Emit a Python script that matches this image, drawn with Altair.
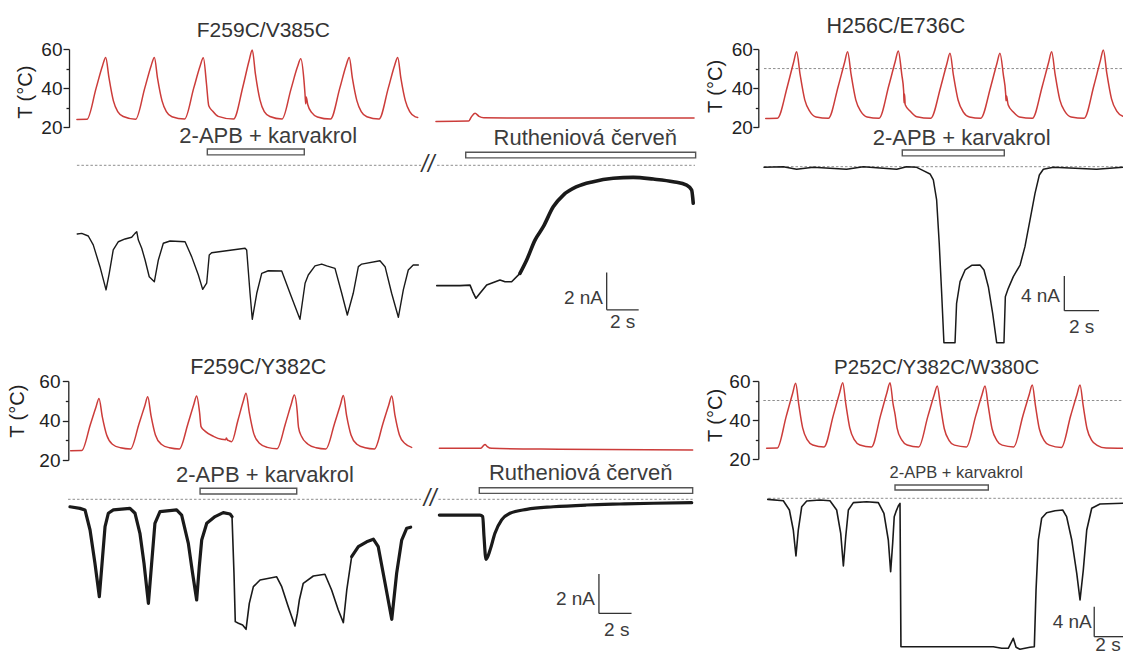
import altair as alt
import pandas as pd

# ---------------- data ----------------
# time in s, temperature in degC, current in nA (0 = dashed zero-current line)

# F259C/V385C (top left)
TL_TEMP_A = [(0.12,24.0),(0.75,24.1),(1.32,40.0),(1.72,51.5),(1.92,55.7),(2.12,45.5),(2.40,33.5),(2.67,28.0),(3.02,25.5),(3.79,24.1),
             (4.36,40.0),(4.76,51.5),(4.96,55.7),(5.16,45.0),(5.44,33.5),(5.71,28.0),(6.06,25.4),(6.85,24.2),
             (7.42,40.0),(7.82,51.3),(8.02,55.5),(8.22,42.0),(8.33,32.5),(8.36,31.0),(8.60,28.3),(8.95,25.6),(9.91,24.2),
             (10.50,41.0),(10.88,54.0),(11.08,59.5),(11.28,47.0),(11.56,34.0),(11.83,28.0),(12.18,25.5),(12.94,24.2),
             (13.50,39.5),(13.91,51.0),(14.11,55.0),(14.31,44.0),(14.38,36.5),(14.42,32.0),(14.45,35.5),(14.55,31.5),(14.80,27.5),(15.15,25.3),(15.97,24.2),
             (16.55,40.0),(16.94,51.5),(17.14,55.7),(17.34,45.0),(17.62,33.5),(17.89,28.0),(18.24,25.4),(19.00,24.2),
             (19.58,40.0),(19.97,51.5),(20.17,55.7),(20.37,45.0),(20.65,33.5),(20.92,28.0),(21.27,25.3),(21.42,25.0)]
TL_TEMP_B = [(22.56,23.0),(24.60,23.2),(24.75,25.0),(25.00,27.2),(25.25,25.6),(25.55,24.9),(27.00,24.8),(38.69,24.8)]
TL_CUR_A = [(0.14,-3.69),(0.42,-3.66),(0.83,-3.80),(1.14,-4.28),(1.56,-5.45),(1.94,-6.70),(2.14,-5.81),(2.39,-4.55),(2.71,-4.11),
            (3.13,-3.96),(3.54,-3.87),(3.75,-3.66),(3.86,-3.57),(3.96,-4.02),(4.17,-4.46),(4.38,-5.09),(4.64,-5.99),(4.96,-6.26),
            (5.21,-5.09),(5.52,-4.19),(5.94,-4.07),(6.88,-4.11),(7.29,-4.91),(7.71,-5.90),(7.98,-6.67),(8.23,-6.34),(8.39,-4.82),
            (8.54,-4.70),(10.63,-4.46),(10.73,-4.55),(10.94,-6.88),(11.08,-8.28),(11.36,-6.88),(11.67,-5.81),(12.08,-5.67),
            (12.92,-5.68),(13.44,-6.88),(14.06,-8.28),(14.38,-6.34),(14.58,-5.90),(15.00,-5.41),(15.42,-5.31),(15.73,-5.41),
            (16.25,-5.54),(16.67,-6.88),(17.02,-8.05),(17.39,-6.88),(17.71,-5.45),(17.92,-5.31),(19.06,-5.13),(19.38,-5.45),
            (19.79,-6.88),(20.21,-8.17),(20.52,-6.70),(20.83,-5.63),(21.14,-5.36),(21.46,-5.36)]
TL_CUR_B = [(22.61,-6.47),(24.06,-6.47),(24.69,-6.44),(24.86,-6.80),(25.06,-7.15),(25.31,-6.88),(25.73,-6.44),(26.56,-6.17),
            (26.88,-6.26),(27.29,-6.26),(27.81,-5.81)]
TL_CUR_C = [(27.81,-5.81),(28.23,-5.09),(28.75,-4.02),(29.27,-3.30),(29.89,-2.23),(30.52,-1.60),(31.36,-1.15),(32.39,-0.88),
            (33.64,-0.70),(34.89,-0.65),(36.14,-0.74),(37.39,-0.88),(38.23,-1.06),(38.54,-1.33),(38.64,-2.04)]
TL_DRUG = (8.27, 14.33)
TL_RR = (24.42, 38.79)

# H256C/E736C (top right)
TR_TEMP = [(0.10,24.5),(0.77,24.6),(1.35,41.0),(1.70,53.0),(1.88,58.6),(2.08,47.0),(2.35,34.0),(2.65,28.0),(3.00,25.3),(3.71,24.6),
           (4.28,41.0),(4.64,53.0),(4.82,58.6),(5.02,47.0),(5.29,34.0),(5.59,28.0),(5.94,25.3),(6.63,24.6),
           (7.20,41.5),(7.56,53.5),(7.74,59.0),(7.94,47.0),(8.05,38.5),(8.07,32.5),(8.10,37.0),(8.14,31.5),(8.40,28.5),(8.80,25.4),(9.61,24.6),
           (10.18,40.5),(10.54,52.5),(10.72,57.8),(10.92,46.5),(11.19,33.8),(11.49,27.8),(11.84,25.3),(12.49,24.6),
           (13.06,40.5),(13.42,52.5),(13.60,57.8),(13.80,46.5),(13.93,37.0),(13.95,33.5),(13.98,36.0),(14.07,31.5),(14.37,27.8),(14.72,25.3),(15.47,24.6),
           (16.04,41.0),(16.40,53.0),(16.58,58.6),(16.78,47.0),(17.05,34.0),(17.35,28.0),(17.70,25.3),(18.45,24.6),
           (19.02,41.5),(19.38,53.8),(19.56,59.5),(19.76,47.5),(20.03,34.5),(20.33,28.3),(20.69,25.6)]
TR_CUR = [(0.00,-0.07),(1.11,0.0),(1.88,-0.30),(2.84,-0.07),(4.76,-0.30),(5.72,0.0),(7.65,-0.30),(8.22,0.0),(8.80,-0.07),
          (9.18,-0.46),(9.57,-0.84),(9.76,-1.53),(9.95,-3.84),(10.10,-8.84),(10.24,-14.6),(10.37,-20.3),(11.01,-20.3),
          (11.10,-15.76),(11.30,-13.26),(11.59,-11.91),(11.97,-11.38),(12.45,-11.34),(12.68,-11.91),(12.93,-13.84),
          (13.18,-16.91),(13.41,-20.3),(13.83,-20.3),(13.91,-14.99),(14.08,-14.03),(14.37,-12.68),(14.76,-11.34),
          (15.04,-9.22),(15.33,-6.15),(15.62,-3.07),(15.87,-0.96),(16.10,-0.30),(16.68,-0.07),(19.17,-0.30),(20.69,-0.07)]
TR_DRUG = (7.97, 13.85)

# F259C/Y382C (bottom left)
BL_TEMP_A = [(0.04,24.7),(0.72,24.8),(1.25,38.0),(1.60,47.0),(1.78,51.2),(1.98,42.0),(2.25,32.7),(2.60,28.0),(3.10,26.2),(3.71,25.6),
             (4.24,38.5),(4.59,47.5),(4.77,52.0),(4.97,42.5),(5.24,32.7),(5.60,28.0),(6.10,26.2),(6.71,25.6),
             (7.24,38.5),(7.59,48.0),(7.77,52.4),(7.95,44.0),(8.04,36.9),(8.30,34.5),(8.80,32.0),(9.30,30.5),(9.55,30.3),
             (9.60,31.2),(9.65,30.2),(9.75,29.8),(9.92,29.3),
             (10.30,40.0),(10.62,49.5),(10.80,53.8),(11.00,44.0),(11.27,33.5),(11.62,28.5),(12.10,26.4),(12.70,25.7),
             (13.22,38.5),(13.58,48.5),(13.76,52.9),(13.94,44.5),(14.00,38.0),(14.02,36.5),(14.20,32.0),(14.60,28.0),(15.10,26.2),(15.70,25.6),
             (16.23,38.5),(16.59,48.0),(16.77,52.6),(16.97,42.5),(17.24,32.7),(17.60,28.0),(18.10,26.2),(18.68,25.6),
             (19.20,38.5),(19.56,48.0),(19.74,52.4),(19.94,42.5),(20.21,32.7),(20.55,28.3),(20.96,26.4)]
BL_TEMP_B = [(22.66,25.9),(25.20,26.0),(25.46,27.9),(25.60,26.8),(25.87,25.9),(30.00,25.5),(38.20,25.1)]
BL_CUR_A = [(0.00,-0.38),(0.61,-0.46),(0.92,-0.54),(1.23,-1.56),(1.53,-3.25),(1.80,-4.95),(2.00,-2.92),(2.15,-1.39),(2.35,-0.71),
            (2.66,-0.54),(3.68,-0.46),(3.99,-0.71),(4.29,-1.73),(4.54,-3.25),(4.81,-5.29),(5.01,-3.25),(5.21,-1.22),(5.52,-0.63),
            (6.54,-0.54),(6.85,-0.80),(7.26,-2.24),(7.52,-3.76),(7.77,-5.12),(7.93,-3.43),(8.08,-2.07),(8.39,-1.22),(8.90,-0.88),
            (9.40,-0.68),(9.82,-0.75),(9.94,-0.88)]
BL_CUR_B = [(9.94,-0.88),(10.06,-3.76),(10.14,-6.22),(10.33,-6.30),(10.59,-6.39),(10.80,-6.61),(11.00,-5.29),(11.25,-4.44),
            (11.66,-4.10),(12.68,-3.94),(12.99,-4.44),(13.39,-5.46),(13.80,-6.44),(13.95,-5.80),(14.07,-5.12),(14.31,-4.27),
            (14.93,-3.90),(15.64,-3.81),(16.05,-4.61),(16.46,-5.63),(16.77,-6.27),(16.98,-4.61),(17.28,-2.92)]
BL_CUR_C = [(17.28,-2.92),(17.69,-2.41),(18.20,-2.16),(18.61,-2.03),(18.91,-2.41),(19.33,-4.27),(19.74,-6.10),(20.04,-3.76),
            (20.35,-2.07),(20.66,-1.47),(20.90,-1.42)]
BL_CUR_D = [(22.66,-0.80),(25.15,-0.80),(25.32,-0.88),(25.40,-1.90),(25.52,-3.05),(25.77,-2.58),(26.07,-1.73),(26.48,-1.05),
            (26.99,-0.71),(28.02,-0.51),(29.65,-0.38),(31.70,-0.29),(33.74,-0.24),(35.79,-0.20),(38.14,-0.17)]
BL_DRUG = (7.98, 13.91)
BL_RR = (25.11, 38.20)

# P252C/Y382C/W380C (bottom right)
BR_TEMP = [(0.04,25.5),(0.72,25.6),(1.30,42.0),(1.70,53.5),(1.90,58.8),(2.10,48.0),(2.35,36.0),(2.65,29.8),(3.00,27.2),(3.72,26.2),
           (4.32,42.5),(4.72,54.0),(4.92,59.1),(5.12,48.0),(5.37,36.0),(5.67,29.8),(6.02,27.2),(6.76,26.2),
           (7.35,42.5),(7.75,54.0),(7.95,59.1),(8.15,48.0),(8.27,43.0),(8.40,36.0),(8.70,29.8),(9.05,27.2),(9.79,26.2),
           (10.38,42.0),(10.78,52.8),(10.98,57.4),(11.18,47.5),(11.43,35.5),(11.73,29.6),(12.08,27.1),(12.85,26.2),
           (13.44,42.0),(13.84,52.8),(14.04,57.4),(14.24,47.5),(14.49,35.5),(14.79,29.6),(15.14,27.1),(15.88,26.2),
           (16.47,42.2),(16.87,53.0),(17.07,57.9),(17.27,47.5),(17.52,35.5),(17.82,29.6),(18.17,27.1),(18.94,25.9),
           (19.53,42.2),(19.93,53.0),(20.13,57.9),(20.33,47.5),(20.58,35.5),(20.88,29.6),(21.23,27.0),(21.80,25.6),(22.88,25.5)]
BR_CUR = [(0.11,-0.14),(1.11,-0.32),(1.50,-1.56),(1.75,-4.23),(1.92,-7.69),(2.07,-4.23),(2.29,-1.12),(2.61,-0.36),(3.46,-0.23),
          (4.10,-0.32),(4.53,-1.56),(4.79,-4.67),(4.96,-9.03),(5.11,-5.12),(5.28,-1.56),(5.60,-0.58),(6.45,-0.45),(7.20,-0.58),
          (7.56,-2.00),(7.84,-5.56),(7.99,-9.79),(8.12,-6.00),(8.22,-2.45),(8.33,-1.78),(8.48,-1.03),(8.59,-0.67),(8.65,-19.79),
          (10.73,-19.79),(14.57,-19.79),(15.11,-20.0),(15.53,-20.0),(15.85,-18.67),(16.03,-19.87),(16.28,-20.13),(16.92,-19.87),
          (17.20,-19.79),(17.31,-12.23),(17.46,-5.56),(17.67,-2.67),(17.99,-1.92),(18.53,-1.65),(19.02,-1.56),(19.27,-2.45),
          (19.60,-5.56),(19.92,-10.0),(20.13,-13.56),(20.34,-9.56),(20.56,-4.23),(20.88,-1.33),(21.41,-0.76),(22.88,-0.67)]
BR_DRUG = (8.27, 14.25)

TITLES = ["F259C/V385C", "H256C/E736C", "F259C/Y382C", "P252C/Y382C/W380C"]
DRUG_LABEL = "2-APB + karvakrol"
RR_LABEL = "Rutheniová červeň"
BAR_TIME = 2          # s
BAR_CURRENT = [2, 4, 2, 4]  # nA (TL, TR, BL, BR)

# ---------------- layout & style ----------------
FONT = "Liberation Sans, Arial, sans-serif"
RED = "#cc3c3a"
BLACK = "#1a1a1a"
AX = "#222222"
TXT = "#3c3c3c"
DASH = "#8e8e8e"
BOXC = "#555555"

LAYOUT = {
    "TL": dict(x=([0, 40], [75, 715]), T=([20, 60], [127.3, 49]), I=([-10, 0], [351.3, 165.3]),
               ax=69, tx=-44, ty=91.7, pad=1, tick=6),
    "TR": dict(x=([0, 21], [764, 1128.35]), T=([20, 60], [127.3, 49]), I=([-20, 0], [340.1, 166.7]),
               ax=758.3, tx=-43.3, ty=86, pad=0.5, tick=5.5),
    "BL": dict(x=([0, 40], [70, 722]), T=([20, 60], [460, 381]), I=([-8, 0], [656.66, 499.3]),
               ax=68.3, tx=-50.8, ty=410.7, pad=2.3, tick=6),
    "BR": dict(x=([0, 24], [766, 1140.4]), T=([20, 60], [459, 381]), I=([-20, 0], [648.3, 498.3]),
               ax=758.3, tx=-43.3, ty=415, pad=2.3, tick=6),
}

ONE = pd.DataFrame({"k": [0]})


def scales(q):
    L = LAYOUT[q]
    mk = lambda p: alt.Scale(domain=p[0], range=p[1], nice=False, zero=False)
    return mk(L["x"]), mk(L["T"]), mk(L["I"])


def temp_axis(q):
    L = LAYOUT[q]
    return alt.Axis(orient="left", values=[20, 40, 60], offset=-L["ax"], domainColor=AX, domainWidth=1.3,
                    tickColor=AX, tickWidth=1.3, tickSize=L["tick"], labelFont=FONT, labelFontSize=19,
                    labelColor=AX, labelPadding=L["pad"], grid=False, labelFlush=False, labelOverlap=False,
                    title="T (°C)", titleFont=FONT, titleFontSize=20, titleFontWeight="normal", titleColor=AX,
                    titleAngle=270, titleAlign="center", titleBaseline="middle", titleX=L["tx"], titleY=L["ty"])


def minor_axis(q):
    L = LAYOUT[q]
    return alt.Axis(orient="left", values=[30, 50], offset=-L["ax"], domain=False, labels=False, tickSize=3,
                    tickColor=AX, tickWidth=1.3, grid=False, title=None)


def trace(pairs, col, xs, ys, color, width, axis=None, opacity=1.0, smooth=False):
    d = pd.DataFrame(pairs, columns=["t", col])
    d["i"] = range(len(d))
    return alt.Chart(d).mark_line(color=color, strokeWidth=width, strokeJoin="round", strokeCap="round",
                                  opacity=opacity, interpolate="monotone" if smooth else "linear").encode(
        x=alt.X("t:Q", scale=xs, axis=None),
        y=alt.Y(f"{col}:Q", scale=ys, axis=axis),
        order=alt.Order("i:Q"),
    )


def text(label, t, y, xs, ys, size, color=TXT, align="center", style="normal"):
    return alt.Chart(ONE).mark_text(text=label, font=FONT, fontSize=size, color=color, align=align,
                                    baseline="middle", fontStyle=style).encode(
        x=alt.XDatum(t, scale=xs, axis=None), y=alt.YDatum(y, scale=ys, axis=None))


def box(interval, y0, y1, xs, ys):
    d = pd.DataFrame({"t0": [interval[0]], "t1": [interval[1]]})
    return alt.Chart(d).mark_rect(fill="white", stroke=BOXC, strokeWidth=1.4).encode(
        x=alt.X("t0:Q", scale=xs, axis=None), x2="t1:Q",
        y=alt.YDatum(y0, scale=ys, axis=None), y2=alt.Y2Datum(y1))


def hrule(t0, t1, y, xs, ys, color, width=1.0, dash=None):
    kw = dict(color=color, strokeWidth=width)
    if dash:
        kw["strokeDash"] = dash
    return alt.Chart(ONE).mark_rule(**kw).encode(
        x=alt.XDatum(t0, scale=xs, axis=None), x2=alt.X2Datum(t1), y=alt.YDatum(y, scale=ys, axis=None))


def vrule(t, y0, y1, xs, ys, color, width=1.0):
    return alt.Chart(ONE).mark_rule(color=color, strokeWidth=width).encode(
        x=alt.XDatum(t, scale=xs, axis=None), y=alt.YDatum(y0, scale=ys, axis=None), y2=alt.Y2Datum(y1))


def scalebar(t0, i_top, nA, xs, cs, na_lab, s_lab):
    return [vrule(t0, i_top, i_top - nA, xs, cs, "#333", 1.3),
            hrule(t0, t0 + BAR_TIME, i_top - nA, xs, cs, "#333", 1.3),
            text(f"{nA} nA", na_lab[0], na_lab[1], xs, cs, 19, align="right"),
            text(f"{BAR_TIME} s", s_lab[0], s_lab[1], xs, cs, 19)]


DASHES = [2.5, 2]
layers = []

# ---- top left ----
xs, ts, cs = scales("TL")
layers += [
    trace(TL_TEMP_A, "T", xs, ts, RED, 1.5, axis=temp_axis("TL"), smooth=True),
    trace(TL_TEMP_A, "T", xs, ts, RED, 1.0, axis=minor_axis("TL"), opacity=0),
    trace(TL_TEMP_B, "T", xs, ts, RED, 1.5, smooth=True),
    hrule(0.12, 21.63, 0, xs, cs, DASH, 1, DASHES),
    hrule(22.63, 38.75, 0, xs, cs, DASH, 1, DASHES),
    text("//", 22.06, 0, xs, cs, 23, color="#333", style="italic"),
    trace(TL_CUR_A, "I", xs, cs, BLACK, 1.4),
    trace(TL_CUR_B, "I", xs, cs, BLACK, 1.6),
    trace(TL_CUR_C, "I", xs, cs, BLACK, 3.6, smooth=True),
    box(TL_DRUG, 0.88, 0.56, xs, cs),
    box(TL_RR, 0.70, 0.40, xs, cs),
    text(DRUG_LABEL, 12.08, 1.55, xs, cs, 22),
    text(RR_LABEL, 31.89, 1.47, xs, cs, 22),
    text(TITLES[0], 11.77, 69.0, xs, ts, 21, color="#333"),
]
layers += scalebar(33.23, -5.77, BAR_CURRENT[0], xs, cs, (33.0, -7.13), (34.23, -8.45))

# ---- top right ----
xs, ts, cs = scales("TR")
layers += [
    hrule(0.0, 21.0, 50, xs, ts, DASH, 1, DASHES),
    trace(TR_TEMP, "T", xs, ts, RED, 1.5, axis=temp_axis("TR"), smooth=True),
    trace(TR_TEMP, "T", xs, ts, RED, 1.0, axis=minor_axis("TR"), opacity=0),
    hrule(0.0, 21.0, 0, xs, cs, DASH, 1, DASHES),
    trace(TR_CUR, "I", xs, cs, BLACK, 1.5),
    box(TR_DRUG, 1.93, 1.25, xs, cs),
    text(DRUG_LABEL, 11.39, 3.30, xs, cs, 22),
    text(TITLES[1], 7.6, 71.4, xs, ts, 21.5, color="#333"),
]
layers += scalebar(17.31, -12.61, BAR_CURRENT[1], xs, cs, (17.06, -14.91), (18.31, -18.45))

# ---- bottom left ----
xs, ts, cs = scales("BL")
layers += [
    trace(BL_TEMP_A, "T", xs, ts, RED, 1.5, axis=temp_axis("BL"), smooth=True),
    trace(BL_TEMP_A, "T", xs, ts, RED, 1.0, axis=minor_axis("BL"), opacity=0),
    trace(BL_TEMP_B, "T", xs, ts, RED, 1.5, smooth=True),
    hrule(-0.12, 21.53, 0, xs, cs, DASH, 1, DASHES),
    hrule(22.60, 38.20, 0, xs, cs, DASH, 1, DASHES),
    text("//", 22.09, 0, xs, cs, 23, color="#333", style="italic"),
    trace(BL_CUR_A, "I", xs, cs, BLACK, 3.2),
    trace(BL_CUR_B, "I", xs, cs, BLACK, 1.6),
    trace(BL_CUR_C, "I", xs, cs, BLACK, 3.2),
    trace(BL_CUR_D, "I", xs, cs, BLACK, 3.2, smooth=True),
    box(BL_DRUG, 0.56, 0.27, xs, cs),
    box(BL_RR, 0.59, 0.30, xs, cs),
    text(DRUG_LABEL, 11.96, 1.24, xs, cs, 22),
    text(RR_LABEL, 31.33, 1.32, xs, cs, 22),
    text(TITLES[2], 11.55, 66.4, xs, ts, 21.5, color="#333"),
]
layers += scalebar(32.45, -3.80, BAR_CURRENT[2], xs, cs, (32.21, -5.08), (33.54, -6.64))

# ---- bottom right ----
xs, ts, cs = scales("BR")
layers += [
    hrule(-0.17, 24.0, 50, xs, ts, DASH, 1, DASHES),
    trace(BR_TEMP, "T", xs, ts, RED, 1.5, axis=temp_axis("BR"), smooth=True),
    trace(BR_TEMP, "T", xs, ts, RED, 1.0, axis=minor_axis("BR"), opacity=0),
    hrule(0.15, 24.0, 0, xs, cs, DASH, 1, DASHES),
    trace(BR_CUR, "I", xs, cs, BLACK, 1.6),
    box(BR_DRUG, 1.77, 1.11, xs, cs),
    text(DRUG_LABEL, 12.2, 3.33, xs, cs, 16.5),
    text(TITLES[3], 10.94, 66.5, xs, ts, 20.5, color="#333"),
]
layers += scalebar(21.04, -14.45, BAR_CURRENT[3], xs, cs, (20.88, -16.53), (21.92, -19.6))

chart = alt.layer(*layers).resolve_scale(x="independent", y="independent").properties(
    width=1123, height=655, autosize=alt.AutoSizeParams(type="none"), padding=0, background="white"
).configure_view(strokeWidth=0)

chart.save("out.html", embed_options={"renderer": "svg", "actions": False})
